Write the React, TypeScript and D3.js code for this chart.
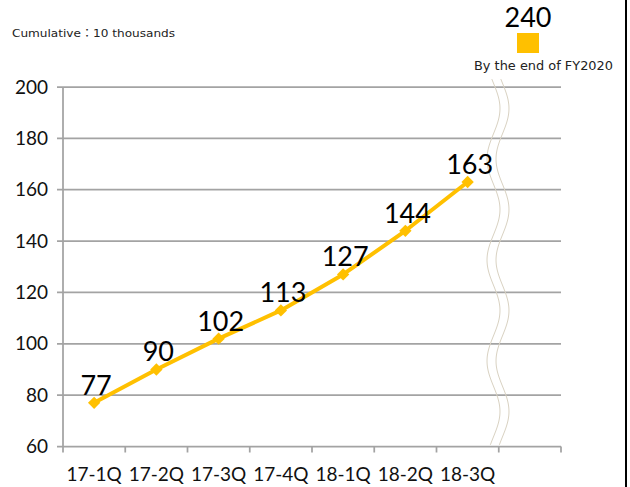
import React from "react";
import * as d3 from "d3";

const categories = ["17-1Q", "17-2Q", "17-3Q", "17-4Q", "18-1Q", "18-2Q", "18-3Q", ""];
const values = [77, 90, 102, 113, 127, 144, 163];
const yTicks = [60, 80, 100, 120, 140, 160, 180, 200];
const targetValue = 240;
const unitLabel = "Cumulative\uFF1A10 thousands";
const targetLabel = "By the end of FY2020";

const W = 630;
const H = 487;
const ORANGE = "#FFC000";
const GRID = "#a3a3a3";

export default function App() {
  const x = d3.scaleBand<string>().domain(categories).range([63, 561]).padding(0);
  const y = d3.scaleLinear().domain([60, 200]).range([446.5, 87]);

  const pts = values.map((v, i) => [x(categories[i])! + x.bandwidth() / 2, y(v)] as [number, number]);
  const line = d3.line<[number, number]>()(pts) || "";
  const diamond = d3.symbol().type(d3.symbolSquare).size(76)() || "";

  // decorative break marks (wavy lines)
  const waveYs = d3.range(79, 447, 2);
  const wave = (off: number) =>
    d3.line<number>()
      .x((yy) => 493.5 + off - 6.5 * Math.cos((2 * Math.PI * (yy - 58)) / 101))
      .y((yy) => yy)
      .curve(d3.curveBasis)(waveYs) || "";

  const font = "Lato, 'Open Sans', sans-serif";
  const smallFont = "'DejaVu Sans', 'Noto Sans CJK JP', sans-serif";

  return (
    <svg width={W} height={H} style={{ position: "absolute", left: 0, top: 0, background: "#fff" }}>
      <rect x={0} y={0} width={W} height={H} fill="#fff" />
      {/* gridlines */}
      {yTicks.map((t) => (
        <line key={t} x1={57} x2={561} y1={y(t)} y2={y(t)} stroke={GRID} strokeWidth={1.75} />
      ))}
      {/* y axis */}
      <line x1={63} x2={63} y1={y(200)} y2={y(60)} stroke={GRID} strokeWidth={1.75} />
      {/* x ticks */}
      {categories.map((c, i) => (
        <line key={"xt" + i} x1={x(c)!} x2={x(c)!} y1={y(60)} y2={y(60) + 6} stroke={GRID} strokeWidth={1.75} />
      ))}
      <line x1={561} x2={561} y1={y(60)} y2={y(60) + 6} stroke={GRID} strokeWidth={1.75} />
      {/* y tick labels */}
      {yTicks.map((t) => (
        <text key={"yl" + t} x={48} y={y(t)} dy="0.35em" textAnchor="end" fontFamily={font} fontSize={19} fill="#111">
          {t}
        </text>
      ))}
      {/* x tick labels */}
      {categories.map((c, i) =>
        c ? (
          <text key={"xl" + i} x={x(c)! + x.bandwidth() / 2} y={481} textAnchor="middle" fontFamily={font} fontSize={19} fill="#111">
            {c}
          </text>
        ) : null
      )}
      {/* wave break */}
      <path d={wave(0)} fill="none" stroke="#d9d2c2" strokeWidth={1} />
      <path d={wave(9)} fill="none" stroke="#d9d2c2" strokeWidth={1} />
      {/* series */}
      <path d={line} fill="none" stroke={ORANGE} strokeWidth={4} strokeLinejoin="round" />
      {pts.map((p, i) => (
        <path key={"m" + i} d={diamond} transform={`translate(${p[0]},${p[1]}) rotate(45)`} fill={ORANGE} />
      ))}
      {pts.map((p, i) => (
        <text key={"dl" + i} x={p[0] + 2} y={p[1] - 8} textAnchor="middle" fontFamily={font} fontSize={27} fill="#000">
          {values[i]}
        </text>
      ))}
      {/* unit label */}
      <text x={12} y={36.5} fontFamily={smallFont} fontSize={11} fill="#222" textLength={163} lengthAdjust="spacingAndGlyphs">
        {unitLabel}
      </text>
      {/* target */}
      <text x={528} y={27} textAnchor="middle" fontFamily={font} fontSize={27} fill="#000">
        {targetValue}
      </text>
      <rect x={517} y={33} width={22} height={20} fill={ORANGE} />
      <text x={474} y={70} fontFamily={smallFont} fontSize={11.5} fill="#222" textLength={139} lengthAdjust="spacingAndGlyphs">
        {targetLabel}
      </text>
      {/* right border */}
      <line x1={626} x2={626} y1={0} y2={H} stroke="#000" strokeWidth={2} />
    </svg>
  );
}
